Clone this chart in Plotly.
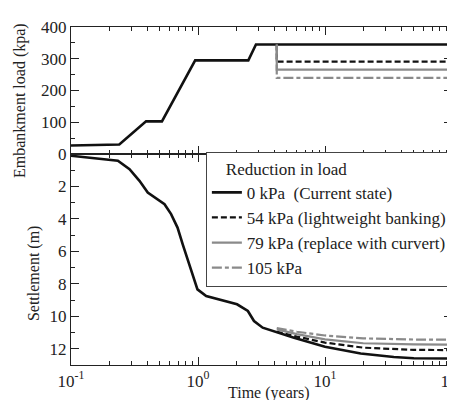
import plotly.graph_objects as go

# ---- data ----
load_time = [0.1, 0.24, 0.39, 0.52, 0.95, 2.49, 2.86, 100]
load_kpa = [27, 30, 103, 103, 295, 295, 345, 345]

reduction_start = 4.17
reductions = [54, 79, 105]
full_load = 345

settle_time = [0.1, 0.153, 0.234, 0.289, 0.346, 0.402, 0.468, 0.545, 0.614, 0.69,
               0.758, 0.857, 0.94, 0.99, 1.16, 2.03, 2.47, 2.76, 3.23, 4.1, 5.7,
               10, 19.1, 34.8, 50, 100]
settle_0 = [0.1, 0.27, 0.41, 0.93, 1.65, 2.37, 2.71, 3.09, 3.7, 4.53,
            5.56, 6.9, 7.92, 8.34, 8.75, 9.26, 9.67, 10.29, 10.7, 10.97, 11.32,
            11.88, 12.29, 12.51, 12.58, 12.6]

red_time = [4.17, 6, 10, 20, 50, 100]
settle_54 = [10.95, 11.25, 11.62, 11.93, 12.07, 12.08]
settle_79 = [10.8, 11.1, 11.42, 11.66, 11.73, 11.74]
settle_105 = [10.72, 10.95, 11.18, 11.36, 11.43, 11.44]

legend_names = ["0 kPa  (Current state)", "54 kPa (lightweight banking)",
                "79 kPa (replace with curvert)", "105 kPa"]

x_tickvals = [0.1, 1, 10, 100]
x_ticktext = ["10<sup>-1</sup>", "10<sup>0</sup>", "10<sup>1</sup>", "10<sup>2</sup>"]

# ---- styles ----
BLACK = "#111111"
GRAY = "#8a8a8a"
TXT = "#222222"
styles = [
    dict(color=BLACK, width=2.6, dash="solid"),
    dict(color=BLACK, width=2.2, dash="6px,3px"),
    dict(color=GRAY, width=2.2, dash="solid"),
    dict(color=GRAY, width=2.2, dash="10px,3px,4px,3px"),
]
FONT = "'Liberation Serif', 'Times New Roman', Times, serif"

fig = go.Figure()

# top panel: load
fig.add_trace(go.Scatter(x=load_time, y=load_kpa, mode="lines", line=styles[0],
                         xaxis="x2", yaxis="y2", showlegend=False))
for r, st in zip(reductions, styles[1:]):
    v = full_load - r
    fig.add_trace(go.Scatter(x=[reduction_start, reduction_start, 100],
                             y=[full_load, v, v], mode="lines", line=st,
                             xaxis="x2", yaxis="y2", showlegend=False))

# bottom panel: settlement
series = [(settle_time, settle_0), (red_time, settle_54),
          (red_time, settle_79), (red_time, settle_105)]
for (t, s), name, st in zip(series, legend_names, styles):
    fig.add_trace(go.Scatter(x=t, y=s, mode="lines", line=st, name=name,
                             xaxis="x", yaxis="y"))

minor_x = [m * 10 ** e for e in (-1, 0, 1) for m in range(2, 10)]

tickfont = dict(family=FONT, size=17, color=TXT)

xcommon = dict(type="log", range=[-1, 2], ticks="inside", ticklen=8, tickwidth=1,
               tickcolor=TXT, showline=True, linecolor=TXT, linewidth=1.2,
               mirror="ticks", showgrid=False, zeroline=False,
               minor=dict(tickvals=minor_x, ticks="inside", ticklen=4,
                          tickcolor=TXT, showgrid=False),
               tickvals=x_tickvals, ticktext=x_ticktext, tickfont=tickfont,
               ticklabeloverflow="allow", automargin=False)

fig.update_layout(
    width=455, height=400,
    margin=dict(l=63, r=11, t=19, b=43),
    paper_bgcolor="white", plot_bgcolor="white",
    font=dict(family=FONT, size=16, color=TXT),
    xaxis=dict(**xcommon, domain=[0, 1], anchor="y"),
    xaxis2=dict(**xcommon, domain=[0, 1], anchor="y2", matches="x",
                showticklabels=False),
    yaxis=dict(domain=[0, 0.624], range=[13, 0], autorange=False,
               tickvals=[0, 2, 4, 6, 8, 10, 12],
               ticktext=["", "2", "4", "6", "8", "10", "12"],
               ticks="inside", ticklen=8, tickcolor=TXT,
               minor=dict(tickvals=[1, 3, 5, 7, 9, 11, 13], ticks="inside",
                          ticklen=4, tickcolor=TXT, showgrid=False),
               showline=True, linecolor=TXT, linewidth=1.2, mirror="ticks",
               showgrid=False, zeroline=False, tickfont=tickfont, automargin=False),
    yaxis2=dict(domain=[0.624, 1], range=[0, 400], autorange=False,
                tickvals=[0, 100, 200, 300, 400],
                ticks="inside", ticklen=8, tickcolor=TXT,
                minor=dict(tickvals=[50, 150, 250, 350], ticks="inside",
                           ticklen=4, tickcolor=TXT, showgrid=False),
                showline=True, linecolor=TXT, linewidth=1.2, mirror="ticks",
                showgrid=False, zeroline=False, tickfont=tickfont, automargin=False),
    legend=dict(x=0.354, y=0.631, xanchor="left", yanchor="top",
                bgcolor="white", bordercolor="#444", borderwidth=1,
                title=dict(text="    Reduction in load", font=dict(family=FONT, size=17)),
                font=dict(family=FONT, size=17, color=TXT),
                tracegroupgap=0),
    annotations=[
        dict(text="Embankment load (kpa)", xref="paper", yref="paper",
             x=-0.134, y=0.784, textangle=-90, showarrow=False,
             font=dict(family=FONT, size=16, color=TXT),
             xanchor="center", yanchor="middle"),
        dict(text="Settlement (m)", xref="paper", yref="paper",
             x=-0.097, y=0.272, textangle=-90, showarrow=False,
             font=dict(family=FONT, size=16, color=TXT),
             xanchor="center", yanchor="middle"),
        dict(text="Time (years)", xref="paper", yref="paper",
             x=0.52, y=-0.083, showarrow=False,
             font=dict(family=FONT, size=16, color=TXT),
             xanchor="center", yanchor="middle"),
    ],
)

fig.write_html("out.html")
